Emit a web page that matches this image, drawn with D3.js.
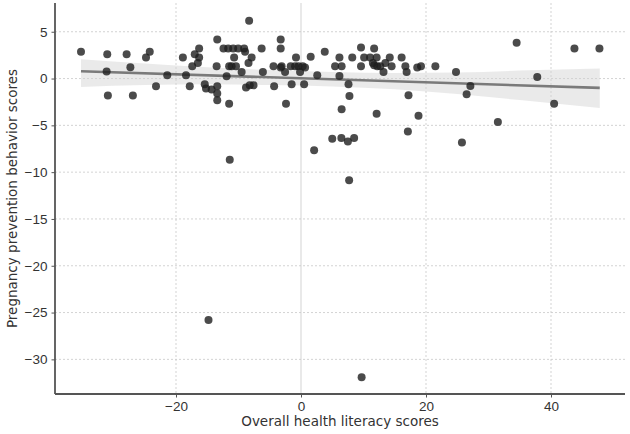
<!DOCTYPE html>
<html>
<head>
<meta charset="utf-8">
<script src="https://cdn.jsdelivr.net/npm/d3@7"></script>
<style>
  body { margin: 0; background: #fff; }
  svg { display: block; font-family: "DejaVu Sans", sans-serif; }
  .tick text { font-size: 13.5px; fill: #333; }
  .axisLabel { font-size: 13.5px; fill: #333; }
</style>
</head>
<body>
<svg id="chart"></svg>
<script>
'use strict'

const literacy = [
    -35.2, -31.0, -31.1, -30.9, -27.9, -27.3, -26.9, -24.8, -24.2, -23.2,
    -21.4, -18.9, -18.4, -17.8, -17.4, -17.0, -16.3, -16.3, -16.5, -15.4,
    -15.2, -14.3, -13.4, -13.4, -13.4, -13.4, -13.5, -12.4, -11.5, -11.65,
    -10.85, -10.05, -9.1, -8.95, -10.7, -11.5, -11.1, -10.4, -11.9, -9.5,
    -8.4, -7.9, -8.3, -8.8, -8.2, -7.6, -6.3, -6.1, -4.4, -4.3,
    -3.25, -3.25, -3.25, -3.1, -2.55, -2.4, -1.5, -1.65, -0.95, -0.4,
    -0.8, -0.15, 0.27, 0.65, 0.5, 1.55, 2.6, 3.8, 5.45, 6.5,
    6.15, 6.15, 7.6, 7.75, 6.5, 8.2, 9.6, 9.6, 10.1, 11.05,
    11.7, 12.1, 11.5, 11.7, 12.2, 12.7, 13.2, 13.5, 14.2, 14.5,
    16.1, 16.7, 16.9, 18.6, 19.2, 21.5, 24.8, 17.2, 12.1, 18.8,
    17.1, 2.1, 5.0, 6.46, 7.5, 8.5, 7.7, 25.75, 31.5, 27.1,
    26.5, 34.5, 37.8, 40.5, 43.75, 47.75, -11.4, -14.8, 9.7
]
const prevention = [
    2.85, 2.6, 0.75, -1.8, 2.6, 1.2, -1.8, 2.25, 2.85, -0.83,
    0.35, 2.25, 0.35, -0.83, 1.32, 2.6, 3.2, 2.25, 1.67, -0.61,
    -1.07, -1.18, -0.83, -1.61, -2.33, 4.18, 1.32, 3.2, -2.68, 3.2,
    3.2, 3.2, 3.2, 2.85, 2.25, 1.32, 1.32, 1.32, 0.25, 0.71,
    1.67, 2.25, 6.17, -0.96, -0.72, -0.72, 3.2, 0.71, 1.32, -0.83,
    4.18, 3.2, 1.18, 1.32, 0.71, -2.68, -0.61, 1.32, 1.32, 1.32,
    2.25, 0.71, 1.32, 1.18, -0.61, 2.32, 0.35, 2.85, 1.32, 1.32,
    2.25, 0.28, -0.61, -1.86, -3.29, 2.25, 3.32, 1.32, 2.25, 2.25,
    3.2, 2.25, 1.67, 1.43, 1.32, 1.32, 0.71, 1.67, 2.25, 1.32,
    2.25, 1.32, 0.71, 1.18, 1.32, 1.32, 0.71, -1.79, -3.75, -3.97,
    -5.65, -7.65, -6.43, -6.36, -6.72, -6.36, -10.87, -6.83, -4.65, -0.79,
    -1.68, 3.82, 0.17, -2.68, 3.2, 3.2, -8.68, -25.8, -31.9
]

// fitted line ends and confidence band
const fitX = [-35.2, 47.8]
const fitY = [0.78, -1.0]
const bandX = [-35.2, -25, -15, -5, 5, 15, 25, 35, 47.8]
const bandHi = [2.05, 1.6, 1.2, 0.9, 0.7, 0.6, 0.65, 0.85, 1.07]
const bandLo = [-0.9, -0.7, -0.6, -0.7, -0.85, -1.15, -1.65, -2.3, -3.15]

const xTicks = [-20, 0, 20, 40]
const yTicks = [5, 0, -5, -10, -15, -20, -25, -30]

const width = 630, height = 434
const plot = { left: 55, right: 625, top: 3, bottom: 394 }

const svg = d3.select('#chart')
    .attr('width', width)
    .attr('height', height)

const x = d3.scaleLinear()
    .domain([-39.36, 51.84])
    .range([plot.left, plot.right])

const y = d3.scaleLinear()
    .domain([-33.7, 8.07])
    .range([plot.bottom, plot.top])

// grid
svg.append('g')
    .selectAll('line')
    .data(xTicks)
    .enter().append('line')
    .attr('x1', d => x(d)).attr('x2', d => x(d))
    .attr('y1', plot.top).attr('y2', plot.bottom)
    .attr('stroke', '#c8c8c8')
    .attr('stroke-width', 0.8)
    .attr('stroke-dasharray', d => d === 0 ? null : '2,2')

svg.append('g')
    .selectAll('line')
    .data(yTicks)
    .enter().append('line')
    .attr('x1', plot.left).attr('x2', plot.right)
    .attr('y1', d => y(d)).attr('y2', d => y(d))
    .attr('stroke', '#c8c8c8')
    .attr('stroke-width', 0.8)
    .attr('stroke-dasharray', '2,2')

// confidence band + regression line
const band = bandX.map((v, i) => ({ x: v, lo: bandLo[i], hi: bandHi[i] }))
svg.append('path')
    .datum(band)
    .attr('fill', '#d0d0d0')
    .attr('fill-opacity', 0.45)
    .attr('d', d3.area()
        .curve(d3.curveMonotoneX)
        .x(d => x(d.x))
        .y0(d => y(d.lo))
        .y1(d => y(d.hi)))

svg.append('line')
    .attr('x1', x(fitX[0])).attr('y1', y(fitY[0]))
    .attr('x2', x(fitX[1])).attr('y2', y(fitY[1]))
    .attr('stroke', '#7a7a7a')
    .attr('stroke-width', 2.6)

// points
const points = literacy.map((v, i) => ({ x: v, y: prevention[i] }))
svg.append('g')
    .selectAll('circle')
    .data(points)
    .enter().append('circle')
    .attr('cx', d => x(d.x))
    .attr('cy', d => y(d.y))
    .attr('r', 4)
    .attr('fill', '#1e1e1e')
    .attr('fill-opacity', 0.8)

// axes
const xAxis = svg.append('g')
    .attr('transform', 'translate(0,' + plot.bottom + ')')
    .call(d3.axisBottom(x).tickValues(xTicks).tickSize(3.5).tickPadding(4)
        .tickFormat(d => d < 0 ? '\u2212' + Math.abs(d) : d))
xAxis.select('.domain').attr('stroke', '#555').attr('stroke-width', 1.8)
    .attr('d', 'M' + plot.left + ',0H' + plot.right)
xAxis.selectAll('.tick line').attr('stroke', '#555')

const yAxis = svg.append('g')
    .attr('transform', 'translate(' + plot.left + ',0)')
    .call(d3.axisLeft(y).tickValues(yTicks).tickSize(3.5).tickPadding(4)
        .tickFormat(d => d < 0 ? '\u2212' + Math.abs(d) : d))
yAxis.select('.domain').attr('stroke', '#555').attr('stroke-width', 1.8)
    .attr('d', 'M0,' + plot.top + 'V' + plot.bottom)
yAxis.selectAll('.tick line').attr('stroke', '#555')

svg.append('text')
    .classed('axisLabel', true)
    .attr('x', (plot.left + plot.right) / 2)
    .attr('y', 426)
    .attr('text-anchor', 'middle')
    .text('Overall health literacy scores')

svg.append('text')
    .classed('axisLabel', true)
    .attr('transform', 'translate(17,' + (plot.top + plot.bottom) / 2 + ') rotate(-90)')
    .attr('text-anchor', 'middle')
    .text('Pregnancy prevention behavior scores')
</script>
</body>
</html>
